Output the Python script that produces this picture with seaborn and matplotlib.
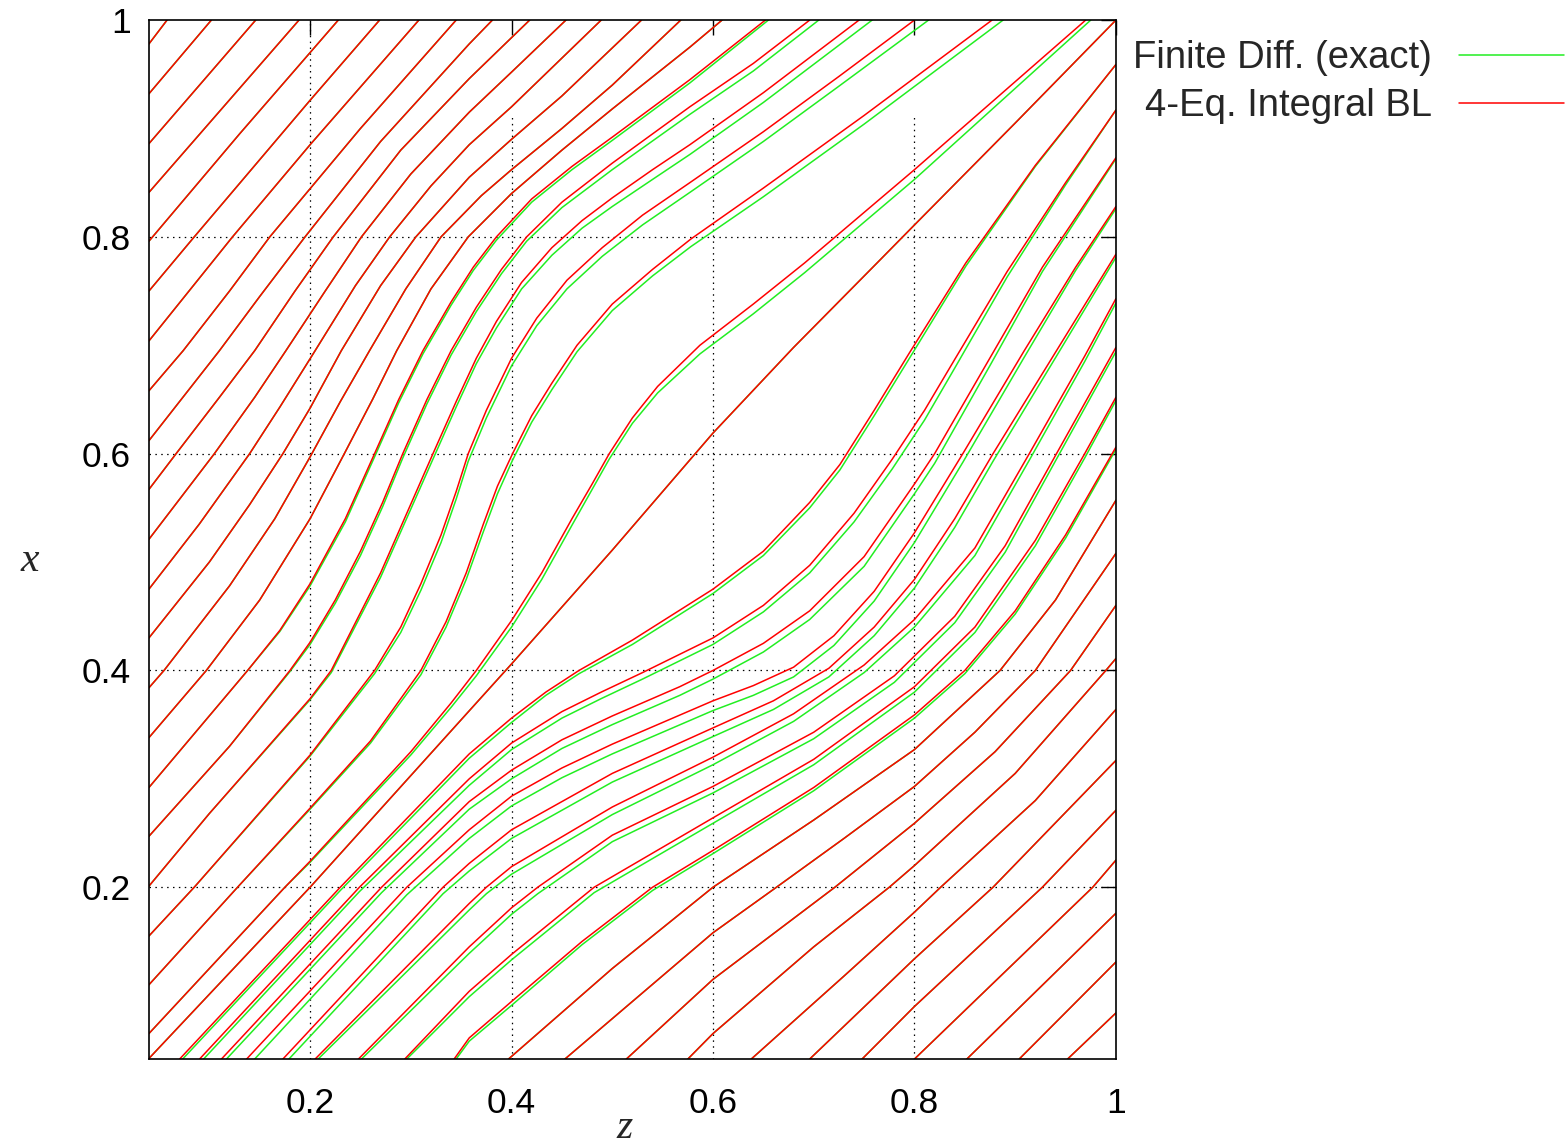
import pandas as pd
import matplotlib
matplotlib.use("Agg")
import matplotlib.pyplot as plt
import seaborn as sns

# --- curves: lists of (z, x) points ---
# upper family: from the left edge to the top edge
u01 = [(0.04, 0.978), (0.058, 1.0)]
u02 = [(0.04, 0.932), (0.102, 1.0)]
u03 = [(0.04, 0.886), (0.146, 1.0)]
u04 = [(0.04, 0.841), (0.189, 1.0)]
u05 = [(0.04, 0.796), (0.13, 0.895), (0.2, 0.97), (0.228, 1.0)]
u06 = [(0.04, 0.750), (0.085, 0.8), (0.2, 0.926), (0.269, 1.0)]
u07 = [(0.04, 0.704), (0.123, 0.8), (0.2, 0.885), (0.308, 1.0)]
u08 = [(0.04, 0.658), (0.074, 0.695), (0.12, 0.75), (0.16, 0.8), (0.25, 0.9),
       (0.345, 1.0)]
u09 = [(0.04, 0.612), (0.11, 0.695), (0.15, 0.745), (0.195, 0.8), (0.27, 0.888),
       (0.358, 0.978), (0.381, 1.0)]
u10 = [(0.04, 0.567), (0.067, 0.6), (0.11, 0.652), (0.145, 0.695), (0.185, 0.75),
       (0.223, 0.8), (0.29, 0.88), (0.358, 0.946), (0.418, 1.0)]
u11 = [(0.04, 0.521), (0.105, 0.6), (0.145, 0.652), (0.176, 0.695), (0.215, 0.75),
       (0.251, 0.8), (0.3, 0.858), (0.358, 0.915), (0.4, 0.952), (0.454, 1.0)]
u12 = [(0.04, 0.475), (0.09, 0.535), (0.14, 0.6), (0.17, 0.643), (0.205, 0.695),
       (0.245, 0.755), (0.279, 0.8), (0.32, 0.847), (0.358, 0.885), (0.4, 0.92),
       (0.489, 1.0)]
u13 = [(0.04, 0.430), (0.1, 0.5), (0.14, 0.553), (0.173, 0.6), (0.2, 0.642),
       (0.231, 0.695), (0.27, 0.755), (0.305, 0.8), (0.358, 0.855), (0.4, 0.89),
       (0.45, 0.93), (0.529, 1.0)]
u14 = [(0.04, 0.384), (0.055, 0.4), (0.12, 0.478), (0.165, 0.54), (0.2, 0.597),
       (0.23, 0.648), (0.259, 0.695), (0.295, 0.752), (0.33, 0.8), (0.37, 0.838),
       (0.4, 0.862), (0.45, 0.9), (0.5, 0.94), (0.568, 1.0)]
u15 = [(0.04, 0.338), (0.097, 0.4), (0.15, 0.465), (0.2, 0.54), (0.234, 0.6),
       (0.262, 0.65), (0.286, 0.695), (0.32, 0.752), (0.357, 0.8), (0.4, 0.84),
       (0.45, 0.88), (0.5, 0.918), (0.577, 0.975), (0.609, 1.0)]
u16 = [(0.04, 0.292), (0.138, 0.4), (0.17, 0.437), (0.2, 0.48), (0.235, 0.54),
       (0.264, 0.6), (0.288, 0.65), (0.312, 0.695), (0.34, 0.74), (0.362, 0.772),
       (0.385, 0.8), (0.42, 0.835), (0.46, 0.865), (0.5, 0.892), (0.577, 0.945),
       (0.652, 1.0)]
u17 = [(0.04, 0.247), (0.12, 0.33), (0.18, 0.4), (0.2, 0.426), (0.225, 0.465),
       (0.25, 0.51), (0.272, 0.555), (0.292, 0.6), (0.316, 0.65), (0.340, 0.695),
       (0.365, 0.735), (0.39, 0.77), (0.415, 0.8), (0.45, 0.832), (0.5, 0.868),
       (0.577, 0.92), (0.64, 0.96), (0.696, 1.0)]
u18 = [(0.04, 0.201), (0.1, 0.268), (0.2, 0.374), (0.221, 0.4), (0.27, 0.49),
       (0.322, 0.6), (0.345, 0.648), (0.365, 0.688), (0.385, 0.722), (0.41, 0.758),
       (0.44, 0.79), (0.47, 0.815), (0.5, 0.836), (0.54, 0.862), (0.577, 0.885),
       (0.65, 0.933), (0.745, 1.0)]
u19 = [(0.04, 0.155), (0.085, 0.2), (0.2, 0.322), (0.264, 0.4), (0.29, 0.44),
       (0.31, 0.48), (0.33, 0.525), (0.345, 0.565), (0.357, 0.6), (0.375, 0.64),
       (0.40, 0.688), (0.425, 0.725), (0.455, 0.76), (0.49, 0.79), (0.53, 0.82),
       (0.577, 0.85), (0.65, 0.897), (0.725, 0.948), (0.8, 1.0)]
u20 = [(0.04, 0.110), (0.128, 0.2), (0.2, 0.273), (0.26, 0.335), (0.31, 0.4),
       (0.335, 0.445), (0.355, 0.49), (0.372, 0.535), (0.386, 0.57), (0.401, 0.6),
       (0.42, 0.635), (0.44, 0.665), (0.465, 0.7), (0.5, 0.738), (0.54, 0.77),
       (0.578, 0.798), (0.65, 0.845), (0.75, 0.912), (0.877, 1.0)]
u21 = [(0.04, 0.065), (0.175, 0.2), (0.2, 0.224), (0.3, 0.325), (0.34, 0.37),
       (0.365, 0.4), (0.4, 0.446), (0.43, 0.49), (0.46, 0.54), (0.48, 0.572),
       (0.497, 0.6), (0.52, 0.633), (0.545, 0.662), (0.587, 0.7), (0.64, 0.738),
       (0.691, 0.776), (0.8, 0.862), (0.97, 1.0)]
# the near-diagonal line through the middle
d00 = [(0.04, 0.042), (0.2, 0.2), (0.366, 0.371), (0.4, 0.406), (0.5, 0.511),
       (0.6, 0.619), (0.68, 0.698), (0.764, 0.777), (0.8, 0.811), (0.9, 0.905),
       (1.0, 1.0)]
# lower family: from the bottom edge to the right edge
l01 = [(0.0705, 0.0415), (0.23, 0.2), (0.358, 0.323), (0.4, 0.356), (0.434, 0.38),
       (0.467, 0.4), (0.52, 0.428), (0.6, 0.475), (0.65, 0.51), (0.696, 0.555),
       (0.726, 0.59), (0.76, 0.64), (0.795, 0.693), (0.851, 0.776), (0.92, 0.866),
       (1.0, 0.959)]
l02 = [(0.0903, 0.0415), (0.249, 0.2), (0.358, 0.300), (0.4, 0.333), (0.45, 0.362),
       (0.489, 0.38), (0.53, 0.398), (0.6, 0.43), (0.65, 0.46), (0.696, 0.497),
       (0.74, 0.545), (0.778, 0.595), (0.81, 0.64), (0.840, 0.687), (0.892, 0.768),
       (0.95, 0.85), (1.0, 0.917)]
l03 = [(0.112, 0.0415), (0.271, 0.2), (0.358, 0.279), (0.4, 0.308), (0.45, 0.336),
       (0.5, 0.358), (0.567, 0.385), (0.6, 0.4), (0.65, 0.425), (0.696, 0.455),
       (0.75, 0.505), (0.8, 0.572), (0.82, 0.6), (0.876, 0.69), (0.927, 0.772),
       (1.0, 0.873)]
l04 = [(0.137, 0.0415), (0.296, 0.2), (0.358, 0.253), (0.4, 0.284), (0.45, 0.31),
       (0.5, 0.332), (0.55, 0.352), (0.6, 0.372), (0.64, 0.386), (0.68, 0.403),
       (0.72, 0.432), (0.76, 0.473), (0.8, 0.527), (0.848, 0.6), (0.909, 0.695),
       (0.96, 0.772), (1.0, 0.828)]
l05 = [(0.173, 0.0415), (0.332, 0.2), (0.358, 0.222), (0.4, 0.253), (0.5, 0.305),
       (0.6, 0.347), (0.66, 0.372), (0.715, 0.402), (0.76, 0.44), (0.8, 0.484),
       (0.84, 0.54), (0.878, 0.6), (0.941, 0.695), (1.0, 0.784)]
l06 = [(0.205, 0.0415), (0.358, 0.185), (0.375, 0.2), (0.4, 0.219), (0.5, 0.274),
       (0.6, 0.32), (0.68, 0.36), (0.75, 0.405), (0.8, 0.447), (0.86, 0.513),
       (0.914, 0.6), (0.969, 0.69), (1.0, 0.743)]
l07 = [(0.248, 0.0415), (0.358, 0.145), (0.4, 0.181), (0.426, 0.2), (0.5, 0.248),
       (0.6, 0.293), (0.7, 0.343), (0.78, 0.395), (0.84, 0.45), (0.89, 0.515),
       (0.941, 0.6), (1.0, 0.698)]
l08 = [(0.294, 0.0415), (0.358, 0.104), (0.4, 0.138), (0.482, 0.2), (0.6, 0.264),
       (0.7, 0.318), (0.8, 0.385), (0.86, 0.44), (0.92, 0.52), (0.969, 0.6),
       (1.0, 0.652)]
l09 = [(0.343, 0.0415), (0.358, 0.061), (0.4, 0.0946), (0.47, 0.15), (0.540, 0.2),
       (0.6, 0.234), (0.7, 0.292), (0.8, 0.359), (0.85, 0.4), (0.9, 0.455),
       (0.95, 0.525), (1.0, 0.606)]
l10 = [(0.397, 0.0415), (0.5, 0.125), (0.6, 0.2), (0.7, 0.262), (0.8, 0.327),
       (0.885, 0.4), (0.94, 0.465), (1.0, 0.557)]
l11 = [(0.453, 0.0415), (0.6, 0.158), (0.663, 0.2), (0.73, 0.245), (0.8, 0.293),
       (0.86, 0.343), (0.92, 0.4), (1.0, 0.508)]
l12 = [(0.514, 0.0415), (0.6, 0.115), (0.721, 0.2), (0.8, 0.259), (0.88, 0.325),
       (0.955, 0.4), (1.0, 0.460)]
l13 = [(0.575, 0.0415), (0.6, 0.065), (0.7, 0.145), (0.775, 0.2), (0.8, 0.22),
       (0.9, 0.305), (0.99, 0.4), (1.0, 0.411)]
l14 = [(0.638, 0.0415), (0.73, 0.118), (0.8, 0.177), (0.826, 0.2), (0.92, 0.28),
       (1.0, 0.364)]
l15 = [(0.696, 0.0415), (0.8, 0.134), (0.878, 0.2), (1.0, 0.317)]
l16 = [(0.748, 0.0415), (0.8, 0.09), (0.927, 0.2), (1.0, 0.271)]
l17 = [(0.800, 0.0415), (0.977, 0.2), (1.0, 0.225)]
l18 = [(0.852, 0.0415), (1.0, 0.176)]
l19 = [(0.904, 0.0415), (1.0, 0.131)]
l20 = [(0.952, 0.0415), (1.0, 0.084)]

# green (finite difference) curves where they sit visibly apart from the red ones
g_u16 = [(0.04, 0.292), (0.138, 0.4), (0.17, 0.436), (0.2, 0.478), (0.235, 0.537),
         (0.264, 0.597), (0.288, 0.647), (0.312, 0.692), (0.34, 0.737),
         (0.362, 0.769), (0.385, 0.797), (0.42, 0.832), (0.46, 0.862),
         (0.5, 0.889), (0.577, 0.942), (0.655, 1.0)]
g_u17 = [(0.04, 0.247), (0.12, 0.33), (0.18, 0.399), (0.2, 0.424), (0.225, 0.462),
         (0.25, 0.506), (0.272, 0.551), (0.292, 0.596), (0.316, 0.646),
         (0.340, 0.691), (0.365, 0.731), (0.39, 0.766), (0.415, 0.796),
         (0.45, 0.827), (0.5, 0.862), (0.577, 0.913), (0.64, 0.953), (0.705, 1.0)]
g_u18 = [(0.04, 0.201), (0.1, 0.268), (0.2, 0.373), (0.221, 0.398), (0.27, 0.486),
         (0.322, 0.595), (0.345, 0.643), (0.365, 0.683), (0.385, 0.716),
         (0.41, 0.752), (0.44, 0.783), (0.47, 0.808), (0.5, 0.828), (0.54, 0.853),
         (0.577, 0.876), (0.65, 0.924), (0.758, 1.0)]
g_u19 = [(0.04, 0.155), (0.085, 0.2), (0.2, 0.321), (0.264, 0.397), (0.29, 0.435),
         (0.31, 0.474), (0.33, 0.518), (0.345, 0.558), (0.357, 0.593),
         (0.375, 0.633), (0.40, 0.681), (0.425, 0.718), (0.455, 0.752),
         (0.49, 0.782), (0.53, 0.811), (0.577, 0.841), (0.65, 0.888),
         (0.725, 0.939), (0.814, 1.0)]
g_u20 = [(0.04, 0.110), (0.128, 0.2), (0.2, 0.272), (0.26, 0.333), (0.31, 0.396),
         (0.335, 0.44), (0.355, 0.484), (0.372, 0.528), (0.386, 0.563),
         (0.401, 0.594), (0.42, 0.629), (0.44, 0.659), (0.465, 0.694),
         (0.5, 0.732), (0.54, 0.764), (0.578, 0.791), (0.65, 0.837),
         (0.75, 0.904), (0.888, 1.0)]
g_u21 = [(0.04, 0.065), (0.175, 0.2), (0.2, 0.223), (0.3, 0.322), (0.34, 0.366),
         (0.365, 0.395), (0.4, 0.44), (0.43, 0.484), (0.46, 0.534), (0.48, 0.567),
         (0.497, 0.595), (0.52, 0.628), (0.545, 0.656), (0.587, 0.692),
         (0.64, 0.729), (0.691, 0.767), (0.8, 0.853), (0.975, 1.0)]
g_l01 = [(0.0735, 0.0415), (0.23, 0.197), (0.358, 0.319), (0.4, 0.352),
         (0.434, 0.377), (0.467, 0.397), (0.52, 0.424), (0.6, 0.471), (0.65, 0.506),
         (0.696, 0.55), (0.726, 0.585), (0.76, 0.635), (0.795, 0.688),
         (0.851, 0.773), (0.92, 0.865), (1.0, 0.959)]
g_l02 = [(0.0943, 0.0415), (0.249, 0.196), (0.358, 0.294), (0.4, 0.327),
         (0.45, 0.356), (0.489, 0.374), (0.53, 0.392), (0.6, 0.424), (0.65, 0.454),
         (0.696, 0.49), (0.74, 0.537), (0.778, 0.586), (0.81, 0.631),
         (0.840, 0.679), (0.892, 0.763), (0.95, 0.848), (1.0, 0.917)]
g_l03 = [(0.117, 0.0415), (0.271, 0.195), (0.358, 0.272), (0.4, 0.3), (0.45, 0.328),
         (0.5, 0.35), (0.567, 0.377), (0.6, 0.392), (0.65, 0.417), (0.696, 0.447),
         (0.75, 0.496), (0.8, 0.563), (0.82, 0.591), (0.876, 0.683),
         (0.927, 0.768), (1.0, 0.872)]
g_l04 = [(0.145, 0.0415), (0.296, 0.193), (0.358, 0.245), (0.4, 0.275),
         (0.45, 0.301), (0.5, 0.323), (0.55, 0.343), (0.6, 0.363), (0.64, 0.377),
         (0.68, 0.394), (0.72, 0.423), (0.76, 0.464), (0.8, 0.518), (0.848, 0.592),
         (0.909, 0.689), (0.96, 0.769), (1.0, 0.826)]
g_l05 = [(0.179, 0.0415), (0.332, 0.194), (0.358, 0.215), (0.4, 0.245),
         (0.5, 0.297), (0.6, 0.339), (0.66, 0.364), (0.715, 0.394), (0.76, 0.432),
         (0.8, 0.476), (0.84, 0.532), (0.878, 0.593), (0.941, 0.69), (1.0, 0.781)]
g_l06 = [(0.208, 0.0415), (0.358, 0.179), (0.375, 0.194), (0.4, 0.212),
         (0.5, 0.267), (0.6, 0.313), (0.68, 0.353), (0.75, 0.398), (0.8, 0.44),
         (0.86, 0.506), (0.914, 0.594), (0.969, 0.685), (1.0, 0.739)]
g_l07 = [(0.251, 0.0415), (0.358, 0.139), (0.4, 0.175), (0.426, 0.194),
         (0.5, 0.242), (0.6, 0.287), (0.7, 0.337), (0.78, 0.389), (0.84, 0.444),
         (0.89, 0.509), (0.941, 0.595), (1.0, 0.694)]
g_l08 = [(0.296, 0.0415), (0.358, 0.099), (0.4, 0.133), (0.482, 0.195),
         (0.6, 0.259), (0.7, 0.313), (0.8, 0.38), (0.86, 0.435), (0.92, 0.515),
         (0.969, 0.596), (1.0, 0.649)]
g_l09 = [(0.345, 0.0415), (0.358, 0.058), (0.4, 0.091), (0.47, 0.147),
         (0.540, 0.197), (0.6, 0.231), (0.7, 0.289), (0.8, 0.356), (0.85, 0.397),
         (0.9, 0.452), (0.95, 0.522), (1.0, 0.604)]

red_curves = {
    "u01": u01, "u02": u02, "u03": u03, "u04": u04, "u05": u05, "u06": u06,
    "u07": u07, "u08": u08, "u09": u09, "u10": u10, "u11": u11, "u12": u12,
    "u13": u13, "u14": u14, "u15": u15, "u16": u16, "u17": u17, "u18": u18,
    "u19": u19, "u20": u20, "u21": u21, "d00": d00,
    "l01": l01, "l02": l02, "l03": l03, "l04": l04, "l05": l05, "l06": l06,
    "l07": l07, "l08": l08, "l09": l09, "l10": l10, "l11": l11, "l12": l12,
    "l13": l13, "l14": l14, "l15": l15, "l16": l16, "l17": l17, "l18": l18,
    "l19": l19, "l20": l20,
}
green_curves = dict(red_curves)
green_curves.update({
    "u16": g_u16, "u17": g_u17, "u18": g_u18, "u19": g_u19, "u20": g_u20,
    "u21": g_u21, "l01": g_l01, "l02": g_l02, "l03": g_l03, "l04": g_l04,
    "l05": g_l05, "l06": g_l06, "l07": g_l07, "l08": g_l08, "l09": g_l09,
})

lbl_fd = "Finite Diff. (exact)"
lbl_bl = "4-Eq. Integral BL"
ticks = [0.2, 0.4, 0.6, 0.8, 1.0]
tick_labels = ["0.2", "0.4", "0.6", "0.8", "1"]

rows = []
for label, curves in [(lbl_fd, green_curves), (lbl_bl, red_curves)]:
    for name, pts in curves.items():
        for i, (z, x) in enumerate(pts):
            rows.append((label, label + name, i, z, x))
df = pd.DataFrame(rows, columns=["method", "curve", "order", "z", "x"])

sns.set_style("white")
plt.rcParams["font.family"] = ["Liberation Sans", "DejaVu Sans"]

fig = plt.figure(figsize=(15.66, 11.47), dpi=100)
ax = fig.add_axes([0.0951, 0.0767, 0.6175, 0.9058])

# dotted grid (gnuplot style); the upper part of the z >= 0.4 lines is left empty
dots = dict(color="black", ls=(0, (1.2, 3.5)), lw=0.9, zorder=0)
for t in ticks[:-1]:
    ax.axhline(t, **dots)
ax.axvline(0.2, **dots)
for t in ticks[1:-1]:
    ax.axvline(t, ymax=0.91, **dots)

sns.lineplot(data=df, x="z", y="x", hue="method", hue_order=[lbl_fd, lbl_bl],
             palette={lbl_fd: "#22ee22", lbl_bl: "#ff0000"}, units="curve",
             estimator=None, sort=False, lw=1.1, ax=ax)

ax.set_xlim(0.04, 1.0)
ax.set_ylim(0.0415, 1.0)
ax.set_xticks(ticks)
ax.set_xticklabels(tick_labels)
ax.set_yticks(ticks)
ax.set_yticklabels(tick_labels)
ax.tick_params(direction="in", length=11, width=1, top=True, right=True,
               labelsize=25.5, colors="black")
ax.tick_params(axis="x", pad=20)
ax.tick_params(axis="y", pad=13)
for sp in ax.spines.values():
    sp.set_color("black")
    sp.set_linewidth(1.2)

ax.set_xlabel("z", fontfamily="Liberation Serif", style="italic", fontsize=30)
ax.set_ylabel("x", fontfamily="Liberation Serif", style="italic", fontsize=30,
              rotation=0)
ax.xaxis.set_label_coords(0.492, -0.066)
ax.xaxis.label.set_va("center")
ax.yaxis.set_label_coords(-0.123, 0.48)
ax.yaxis.label.set_va("center")

leg = ax.legend(loc="upper left", bbox_to_anchor=(1133 / 1566, 0.965),
                bbox_transform=fig.transFigure, frameon=False, markerfirst=False,
                fontsize=27.5, handlelength=2.77, handletextpad=0.7,
                labelspacing=0.31, borderpad=0, borderaxespad=0)
for line in leg.get_lines():
    line.set_linewidth(1.1)

fig.savefig("out.png", dpi=100)
